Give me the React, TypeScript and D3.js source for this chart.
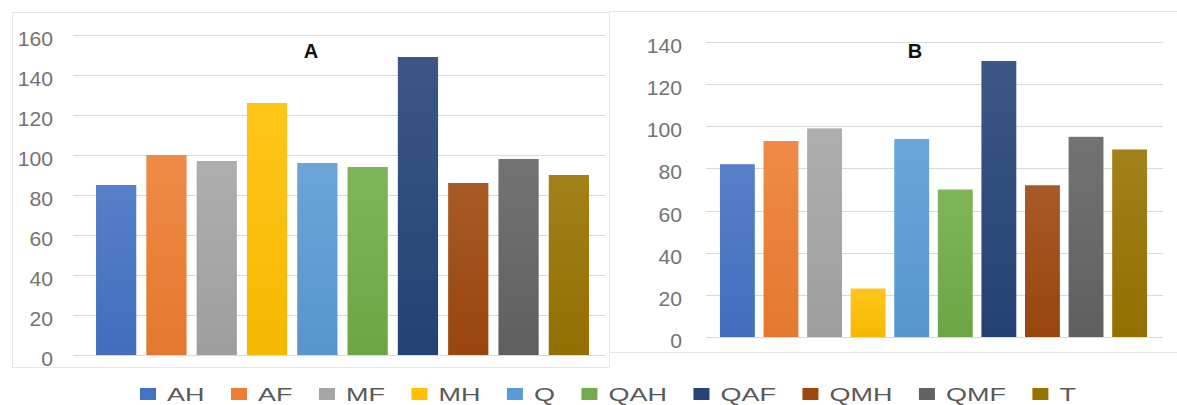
import React, { useEffect, useRef } from "react";
import * as d3 from "d3";

const categories = ["AH", "AF", "MF", "MH", "Q", "QAH", "QAF", "QMH", "QMF", "T"];
const valuesA = [85, 100, 97, 126, 96, 94, 149, 86, 98, 90];
const valuesB = [82, 93, 99, 23, 94, 70, 131, 72, 95, 89];
const ticksA = [0, 20, 40, 60, 80, 100, 120, 140, 160];
const ticksB = [0, 20, 40, 60, 80, 100, 120, 140];
const colors = ["#4472C4", "#ED7D31", "#A5A5A5", "#FFC000", "#5B9BD5", "#70AD47", "#264478", "#9E480E", "#636363", "#997300"];

const FONT = "'Liberation Sans', Arial, sans-serif";

export default function App() {
  const ref = useRef<SVGSVGElement>(null);

  useEffect(() => {
    const svg = d3.select(ref.current);
    svg.selectAll("*").remove();

    const defs = svg.append("defs");
    colors.forEach((c, i) => {
      const g = defs.append("linearGradient").attr("id", "grad" + i).attr("x1", 0).attr("y1", 0).attr("x2", 0).attr("y2", 1);
      g.append("stop").attr("offset", "0%").attr("stop-color", d3.interpolateRgb(c, "#ffffff")(0.1));
      g.append("stop").attr("offset", "100%").attr("stop-color", d3.interpolateRgb(c, "#000000")(0.04));
    });

    // panel frames
    svg.append("rect").attr("x", 12.5).attr("y", 12.5).attr("width", 597).attr("height", 355)
      .attr("fill", "none").attr("stroke", "#e6e6e6");
    svg.append("rect").attr("x", 609.5).attr("y", 11.5).attr("width", 580).attr("height", 341)
      .attr("fill", "#fff").attr("stroke", "#e6e6e6");

    type Panel = {
      values: number[]; ticks: number[]; max: number;
      y0: number; y1: number; gx0: number; gx1: number;
      bx0: number; bx1: number; labelX: number; title: string; titleX: number; weight: string;
    };
    const panels: Panel[] = [
      { values: valuesA, ticks: ticksA, max: 160, y0: 355, y1: 35, gx0: 73, gx1: 605, bx0: 91, bx1: 594, labelX: 53, title: "A", titleX: 311, weight: "bold" },
      { values: valuesB, ticks: ticksB, max: 140, y0: 337, y1: 42, gx0: 706, gx1: 1163, bx0: 715.6, bx1: 1151.4, labelX: 682, title: "B", titleX: 915, weight: "600" },
    ];

    panels.forEach((p) => {
      const g = svg.append("g");
      const y = d3.scaleLinear().domain([0, p.max]).range([p.y0, p.y1]);
      const x = d3.scaleBand<string>().domain(categories).range([p.bx0, p.bx1]).paddingInner(0.2).paddingOuter(0.1);

      g.selectAll("line.grid").data(p.ticks).enter().append("line")
        .attr("x1", p.gx0).attr("x2", p.gx1)
        .attr("y1", (d) => Math.round(y(d)) + 0.5).attr("y2", (d) => Math.round(y(d)) + 0.5)
        .attr("stroke", "#d9d9d9").attr("stroke-width", 1);

      g.selectAll("text.tick").data(p.ticks).enter().append("text")
        .attr("transform", (d) => `translate(${p.labelX},${y(d) + 11}) scale(1.06,1)`)
        .attr("text-anchor", "end")
        .attr("font-family", FONT).attr("font-size", 20).attr("fill", "#737373")
        .text((d) => String(d));

      g.selectAll("rect.bar").data(categories).enter().append("rect")
        .attr("x", (d) => x(d)!)
        .attr("width", x.bandwidth())
        .attr("y", (_d, i) => y(p.values[i]))
        .attr("height", (_d, i) => y(0) - y(p.values[i]))
        .attr("fill", (_d, i) => `url(#grad${i})`);

      g.append("text").attr("x", p.titleX).attr("y", 58).attr("text-anchor", "middle")
        .attr("font-family", FONT).attr("font-size", 20).attr("font-weight", p.weight).attr("fill", "#111")
        .text(p.title);
    });

    // legend
    const lg = svg.append("g");
    let cx = 140;
    categories.forEach((c, i) => {
      lg.append("rect").attr("x", cx).attr("y", 388).attr("width", 16).attr("height", 12).attr("fill", colors[i]);
      const t = lg.append("text")
        .attr("transform", `translate(${cx + 27},401) scale(1.5,1)`)
        .attr("font-family", FONT).attr("font-size", 18).attr("fill", "#595959")
        .text(c);
      const w = (t.node() as SVGTextElement).getComputedTextLength() * 1.5;
      cx = cx + 27 + w + 26.5;
    });
  }, []);

  return (
    <svg ref={ref} width={1177} height={405} style={{ position: "absolute", left: 0, top: 0, background: "#fff" }} />
  );
}
